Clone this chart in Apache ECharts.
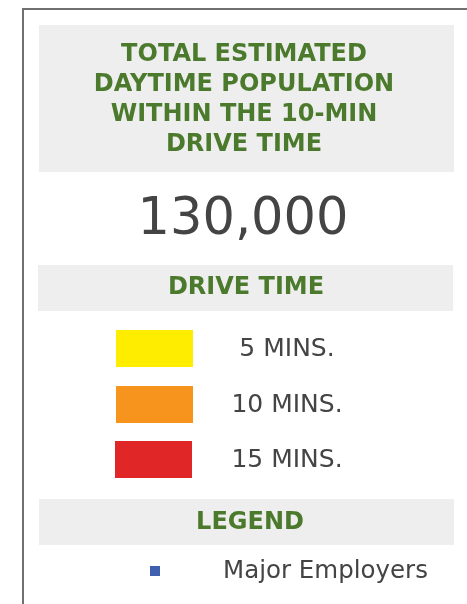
<!DOCTYPE html>
<html>
<head>
<meta charset="utf-8">
<script src="https://cdn.jsdelivr.net/npm/echarts@6/dist/echarts.min.js"></script>
<style>html,body{margin:0;padding:0;background:#fff;}#c{width:467px;height:604px;}</style>
</head>
<body>
<div id="c"></div>
<script>
var titleLines = ['TOTAL ESTIMATED', 'DAYTIME POPULATION', 'WITHIN THE 10-MIN', 'DRIVE TIME'];
var totalPopulation = 130000;
var driveTimeHeader = 'DRIVE TIME';
var driveTimes = ['5 MINS.', '10 MINS.', '15 MINS.'];
var legendHeader = 'LEGEND';
var legendItems = ['Major Employers'];

var driveColors = ['#FFED00', '#F7941D', '#E02626'];
var employerColor = '#3F5FAF';
var green = '#4B7A2C';
var dark = '#444444';
var boxFill = '#EEEEEE';

var chart = echarts.init(document.getElementById('c'), null, {renderer: 'canvas'});
var g = [];
// outer border
g.push({type: 'polyline', shape: {points: [[23, 604], [23, 9], [467, 9]]}, style: {stroke: '#707070', lineWidth: 2, fill: null}});
// boxes
g.push({type: 'rect', shape: {x: 39, y: 25, width: 415, height: 147}, style: {fill: boxFill}});
g.push({type: 'rect', shape: {x: 38, y: 265, width: 415, height: 46}, style: {fill: boxFill}});
g.push({type: 'rect', shape: {x: 39, y: 499, width: 415, height: 46}, style: {fill: boxFill}});

titleLines.forEach(function (t, i) {
  g.push({type: 'text', x: 244, y: 54.5 + i * 30, style: {text: t, fill: green, font: 'bold 24px "DejaVu Sans"', align: 'center', verticalAlign: 'middle'}});
});
g.push({type: 'text', x: 243, y: 221, style: {text: totalPopulation.toLocaleString('en-US'), fill: dark, font: '51px "DejaVu Sans"', align: 'center', verticalAlign: 'middle'}});
g.push({type: 'text', x: 246, y: 288, style: {text: driveTimeHeader, fill: green, font: 'bold 24px "DejaVu Sans"', align: 'center', verticalAlign: 'middle'}});

var swatchY = [330, 386, 441];
var swatchX = [116, 116, 115];
driveTimes.forEach(function (t, i) {
  g.push({type: 'rect', shape: {x: swatchX[i], y: swatchY[i], width: 77, height: 37}, style: {fill: driveColors[i]}});
  g.push({type: 'text', x: 287, y: swatchY[i] + 19.5, style: {text: t, fill: dark, font: '25px "DejaVu Sans"', align: 'center', verticalAlign: 'middle'}});
});

g.push({type: 'text', x: 250, y: 523, style: {text: legendHeader, fill: green, font: 'bold 24px "DejaVu Sans"', align: 'center', verticalAlign: 'middle'}});
legendItems.forEach(function (t, i) {
  g.push({type: 'rect', shape: {x: 150, y: 566 + i * 30, width: 10, height: 10}, style: {fill: employerColor}});
  g.push({type: 'text', x: 223, y: 572 + i * 30, style: {text: t, fill: dark, font: '24.5px "DejaVu Sans"', align: 'left', verticalAlign: 'middle'}});
});

chart.setOption({animation: false, graphic: {elements: g}});
</script>
</body>
</html>
